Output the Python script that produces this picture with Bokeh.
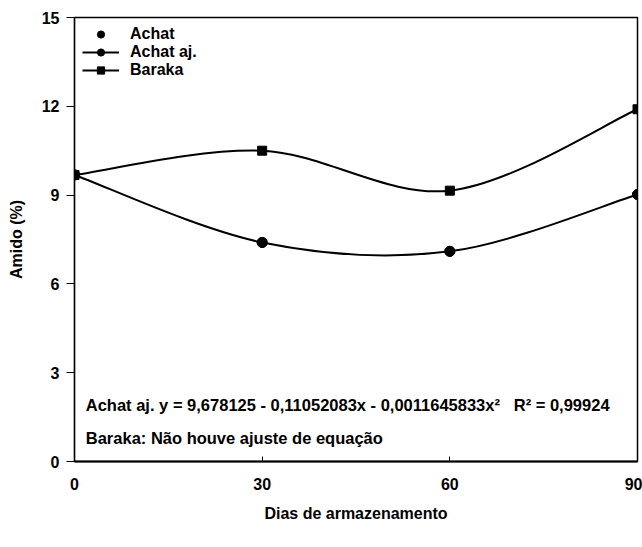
from bokeh.plotting import figure
from bokeh.models import Range1d, FixedTicker, Legend, LegendItem, Label
from bokeh.embed import file_html
from bokeh.resources import INLINE

# Storage days and starch content (%)
days = [0, 30, 60, 90]
achat = [9.68, 7.40, 7.10, 9.02]
achat_aj = [9.68, 7.40, 7.10, 9.02]
baraka = [9.68, 10.50, 9.15, 11.90]

x_ticks = [0, 30, 60, 90]
y_ticks = [0, 3, 6, 9, 12, 15]

FONT = "Liberation Sans"


def smooth_segments(xs, ys):
    """Catmull-Rom smoothing through the points, as cubic Bezier segments."""
    n = len(xs)
    seg = dict(x0=[], y0=[], x1=[], y1=[], cx0=[], cy0=[], cx1=[], cy1=[])
    for i in range(n - 1):
        a = max(i - 1, 0)
        b = min(i + 2, n - 1)
        seg["x0"].append(xs[i])
        seg["y0"].append(ys[i])
        seg["x1"].append(xs[i + 1])
        seg["y1"].append(ys[i + 1])
        seg["cx0"].append(xs[i] + (xs[i + 1] - xs[a]) / 6.0)
        seg["cy0"].append(ys[i] + (ys[i + 1] - ys[a]) / 6.0)
        seg["cx1"].append(xs[i + 1] - (xs[b] - xs[i]) / 6.0)
        seg["cy1"].append(ys[i + 1] - (ys[b] - ys[i]) / 6.0)
    return seg


p = figure(
    width=642,
    height=547,
    output_backend="svg",
    toolbar_location=None,
    x_range=Range1d(0, 90),
    y_range=Range1d(0, 15),
    min_border_left=74,
    min_border_right=5,
    min_border_top=17,
    min_border_bottom=86,
)
p.background_fill_color = "white"
p.border_fill_color = "white"
p.xgrid.visible = False
p.ygrid.visible = False
p.outline_line_color = "black"
p.outline_line_width = 1.5

# Axes
p.xaxis.ticker = FixedTicker(ticks=x_ticks)
p.yaxis.ticker = FixedTicker(ticks=y_ticks)
p.xaxis.minor_tick_line_color = None
p.yaxis.minor_tick_line_color = None
p.xaxis.axis_label = "Dias de armazenamento"
p.yaxis.axis_label = "Amido (%)"
for ax in (p.xaxis[0], p.yaxis[0]):
    ax.axis_line_color = "black"
    ax.major_tick_line_color = "black"
    ax.major_label_text_font = FONT
    ax.major_label_text_font_style = "bold"
    ax.major_label_text_font_size = "16px"
    ax.major_label_text_color = "black"
    ax.axis_label_text_font = FONT
    ax.axis_label_text_font_style = "bold"
    ax.axis_label_text_font_size = "16px"
    ax.axis_label_text_color = "black"
p.xaxis.axis_line_width = 2
p.yaxis.axis_line_width = 1.2
p.xaxis.major_tick_in = 5
p.xaxis.major_tick_out = 0
p.xaxis.major_label_standoff = 16
p.xaxis.axis_label_standoff = 12
p.yaxis.major_tick_in = 0
p.yaxis.major_tick_out = 8
p.yaxis.major_label_standoff = 7
p.yaxis.axis_label_standoff = 14

# Smoothed curves
aj_seg = smooth_segments(days, achat_aj)
b_seg = smooth_segments(days, baraka)
r_aj_line = p.bezier(source=aj_seg, x0="x0", y0="y0", x1="x1", y1="y1",
                     cx0="cx0", cy0="cy0", cx1="cx1", cy1="cy1",
                     line_color="black", line_width=2)
r_b_line = p.bezier(source=b_seg, x0="x0", y0="y0", x1="x1", y1="y1",
                    cx0="cx0", cy0="cy0", cx1="cx1", cy1="cy1",
                    line_color="black", line_width=2)

# Markers
r_achat = p.scatter(days, achat, marker="circle", size=10, color="black")
r_aj_pts = p.scatter(days, achat_aj, marker="circle", size=10, color="black")
r_b_pts = p.scatter(days, baraka, marker="square", size=9, color="black")

legend = Legend(
    items=[
        LegendItem(label="Achat", renderers=[r_achat]),
        LegendItem(label="Achat aj.", renderers=[r_aj_line, r_aj_pts]),
        LegendItem(label="Baraka", renderers=[r_b_line, r_b_pts]),
    ],
    location="top_left",
    margin=8,
    padding=0,
    spacing=0,
    glyph_width=37,
    glyph_height=18,
    label_height=18,
    label_standoff=11,
    border_line_color=None,
    background_fill_alpha=0,
    label_text_font=FONT,
    label_text_font_style="bold",
    label_text_font_size="16px",
    label_text_color="black",
)
p.add_layout(legend)

# Equation notes
p.add_layout(Label(
    x=1.8, y=1.9,
    text="Achat aj. y = 9,678125 - 0,11052083x - 0,0011645833x\u00b2\u00a0\u00a0\u00a0R\u00b2 = 0,99924",
    text_font=FONT, text_font_style="bold", text_font_size="16.5px",
    text_baseline="middle", text_color="black",
))
p.add_layout(Label(
    x=1.8, y=0.8,
    text="Baraka: N\u00e3o houve ajuste de equa\u00e7\u00e3o",
    text_font=FONT, text_font_style="bold", text_font_size="16.5px",
    text_baseline="middle", text_color="black",
))

open("out.html", "w").write(file_html(p, INLINE))
